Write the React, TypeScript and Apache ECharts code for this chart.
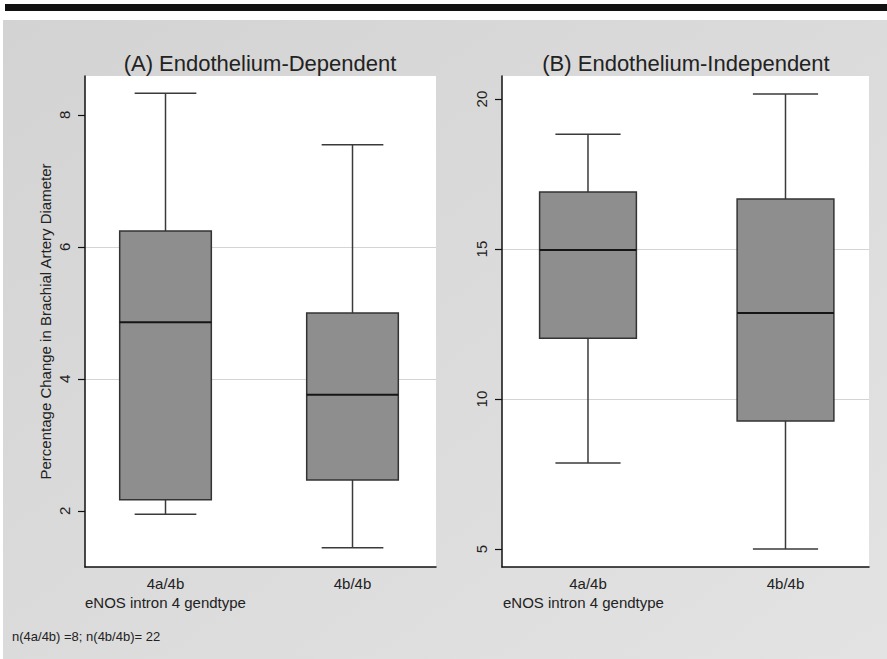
import React, { useEffect, useRef } from "react";
import * as echarts from "echarts";

const genotypes = ["4a/4b", "4b/4b"];
// [position, min, Q1, median, Q3, max]
const dependentStats = [
  [1, 1.95, 2.17, 4.86, 6.24, 8.33],
  [2, 1.44, 2.47, 3.76, 5.0, 7.55],
];
const independentStats = [
  [1, 7.87, 12.03, 14.97, 16.9, 18.83],
  [2, 5.0, 9.27, 12.87, 16.67, 20.17],
];
const dependentTicks = [2, 4, 6, 8];
const independentTicks = [5, 10, 15, 20];
const titles = ["(A) Endothelium-Dependent", "(B) Endothelium-Independent"];
const yAxisTitle = "Percentage Change in Brachial Artery Diameter";
const xAxisTitle = "eNOS intron 4 gendtype";
const footnote = "n(4a/4b) =8; n(4b/4b)= 22";

const FONT = "'Liberation Sans', Arial, Helvetica, sans-serif";
const TEXT = "#222";

const renderBox = (params: any, api: any) => {
  const x = api.value(0);
  const lo = api.value(1);
  const q1 = api.value(2);
  const med = api.value(3);
  const q3 = api.value(4);
  const hi = api.value(5);
  const pLo = api.coord([x, lo]);
  const pQ1 = api.coord([x, q1]);
  const pMed = api.coord([x, med]);
  const pQ3 = api.coord([x, q3]);
  const pHi = api.coord([x, hi]);
  const boxW = api.size([0.49, 0], [x, med])[0];
  const capW = api.size([0.33, 0], [x, med])[0];
  const cx = pMed[0];
  const ls = { stroke: "#3a3a3a", lineWidth: 1.5 };
  return {
    type: "group",
    children: [
      { type: "line", shape: { x1: cx, y1: pHi[1], x2: cx, y2: pQ3[1] }, style: ls },
      { type: "line", shape: { x1: cx, y1: pQ1[1], x2: cx, y2: pLo[1] }, style: ls },
      { type: "line", shape: { x1: cx - capW / 2, y1: pHi[1], x2: cx + capW / 2, y2: pHi[1] }, style: ls },
      { type: "line", shape: { x1: cx - capW / 2, y1: pLo[1], x2: cx + capW / 2, y2: pLo[1] }, style: ls },
      {
        type: "rect",
        shape: { x: cx - boxW / 2, y: pQ3[1], width: boxW, height: pQ1[1] - pQ3[1] },
        style: { fill: "#8e8e8e", stroke: "#333", lineWidth: 1.5 },
      },
      {
        type: "line",
        shape: { x1: cx - boxW / 2, y1: pMed[1], x2: cx + boxW / 2, y2: pMed[1] },
        style: { stroke: "#151515", lineWidth: 2 },
      },
    ],
  };
};

const makeX = (gridIndex: number, min: number, max: number) => ({
  type: "value",
  gridIndex,
  min,
  max,
  axisLine: { show: true, onZero: false, lineStyle: { color: "#111", width: 1.5 } },
  axisTick: { show: false },
  splitLine: { show: false },
  axisLabel: {
    customValues: [1, 2],
    formatter: (v: number) => genotypes[Math.round(v) - 1] ?? "",
    fontSize: 15,
    color: TEXT,
    fontFamily: FONT,
    margin: 9,
  },
});

const makeY = (gridIndex: number, min: number, max: number, ticks: number[], name: string) => ({
  type: "value",
  gridIndex,
  min,
  max,
  axisLine: { show: true, onZero: false, lineStyle: { color: "#111", width: 1.5 } },
  axisTick: { show: true, length: 7, customValues: ticks, lineStyle: { color: "#111", width: 1.2 } },
  axisLabel: {
    customValues: ticks,
    rotate: 90,
    fontSize: 15,
    color: TEXT,
    fontFamily: FONT,
    margin: 13,
  },
  splitLine: {
    show: true,
    showMinLine: false,
    showMaxLine: false,
    lineStyle: { color: "#d4d4d4", width: 1.2 },
  },
  name,
  nameLocation: "middle",
  nameRotate: 90,
  nameGap: 32,
  nameTextStyle: { fontSize: 15, color: TEXT, fontFamily: FONT },
});

export default function App() {
  const ref = useRef<HTMLDivElement>(null);
  useEffect(() => {
    if (!ref.current) return;
    const chart = echarts.init(ref.current, undefined, { renderer: "svg" });
    chart.setOption({
      animation: false,
      backgroundColor: "#ffffff",
      grid: [
        { left: 85, top: 76, width: 351, height: 491, show: true, backgroundColor: "#ffffff", borderWidth: 0 },
        { left: 502, top: 76, width: 367, height: 491, show: true, backgroundColor: "#ffffff", borderWidth: 0 },
      ],
      xAxis: [makeX(0, 0.5695, 2.4465), makeX(1, 0.5646, 2.4228)],
      yAxis: [
        makeY(0, 1.15, 8.59, dependentTicks, yAxisTitle),
        makeY(1, 4.4, 20.77, independentTicks, ""),
      ],
      graphic: [
        {
          type: "rect",
          z: -10,
          silent: true,
          shape: { x: 3, y: 20, width: 884, height: 639 },
          style: {
            fill: new echarts.graphic.LinearGradient(0, 0, 1, 1, [
              { offset: 0, color: "#d3d3d3" },
              { offset: 1, color: "#e3e3e3" },
            ]),
          },
        },
        {
          type: "rect",
          z: -5,
          silent: true,
          shape: { x: 5, y: 4, width: 882, height: 7 },
          style: { fill: "#111" },
        },
        {
          type: "text",
          x: 260,
          y: 63,
          style: { text: titles[0], fontSize: 22, fill: TEXT, fontFamily: FONT, align: "center", verticalAlign: "middle" },
        },
        {
          type: "text",
          x: 686,
          y: 63,
          style: { text: titles[1], fontSize: 22, fill: TEXT, fontFamily: FONT, align: "center", verticalAlign: "middle" },
        },
        {
          type: "text",
          x: 85,
          y: 602,
          style: { text: xAxisTitle, fontSize: 15, fill: TEXT, fontFamily: FONT, align: "left", verticalAlign: "middle" },
        },
        {
          type: "text",
          x: 503,
          y: 602,
          style: { text: xAxisTitle, fontSize: 15, fill: TEXT, fontFamily: FONT, align: "left", verticalAlign: "middle" },
        },
        {
          type: "text",
          x: 12,
          y: 636,
          style: { text: footnote, fontSize: 13, fill: TEXT, fontFamily: FONT, align: "left", verticalAlign: "middle" },
        },
      ],
      series: [
        {
          type: "custom",
          xAxisIndex: 0,
          yAxisIndex: 0,
          data: dependentStats,
          encode: { x: 0, y: [1, 2, 3, 4, 5] },
          renderItem: renderBox,
          z: 5,
        },
        {
          type: "custom",
          xAxisIndex: 1,
          yAxisIndex: 1,
          data: independentStats,
          encode: { x: 0, y: [1, 2, 3, 4, 5] },
          renderItem: renderBox,
          z: 5,
        },
      ],
    });
    return () => chart.dispose();
  }, []);
  return <div ref={ref} style={{ position: "absolute", left: 0, top: 0, width: 887, height: 659 }} />;
}
